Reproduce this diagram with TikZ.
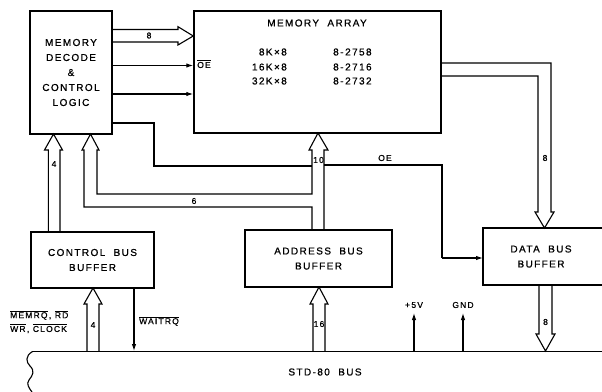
\documentclass[tikz,border=0pt]{standalone}
\usepackage{fontspec}
\setmainfont{Liberation Sans}[LetterSpace=14,FakeBold=0.8]
\usetikzlibrary{arrows.meta}
\newcommand\ovl[1]{\ensuremath{\overline{\mbox{#1}}}}
\begin{document}
\begin{tikzpicture}[x=1pt,y=-1pt,
  box/.style={draw,line width=1.5pt,inner sep=0pt,align=center,font=\fontsize{10}{15}\selectfont},
  txt/.style={inner sep=0pt,font=\fontsize{10}{15}\selectfont},
  lbl/.style={inner sep=0pt,font=\fontsize{8.5}{13}\selectfont},
  wire/.style={line width=1.1pt},
  tip/.style={-{Latex[length=7pt,width=4.5pt]}}]
\useasboundingbox[fill=white] (0,0) rectangle (602,391);

% boxes
\node[box,minimum width=82pt,minimum height=123pt] (dec) at (71,72.5) {MEMORY\\DECODE\\\&\\CONTROL\\LOGIC};
\node[box,minimum width=247pt,minimum height=122pt] (mem) at (317.5,72) {};
\node[box,minimum width=123pt,minimum height=56pt] (cbb) at (92.5,260) {CONTROL\ \ BUS\\BUFFER};
\node[box,minimum width=147pt,minimum height=57pt] (abb) at (318.5,258.5) {ADDRESS\ \ BUS\\BUFFER};
\node[txt,align=center,minimum width=116pt,minimum height=57pt] (dbb) at (541,256.5) {DATA\ \ BUS\\BUFFER};
\draw[line width=1.5pt] (603,228) -- (483,228) -- (483,285) -- (603,285);

% memory array contents
\node[txt] (mtitle) at (317,23) {MEMORY\ \ ARRAY};
\node[txt,anchor=east] (r1) at (287,52) {8K×8};
\node[txt,anchor=east] (r2) at (287,67) {16K×8};
\node[txt,anchor=east] (r3) at (287,81) {32K×8};
\node[txt,anchor=west] (p1) at (333,52) {8-\,2758};
\node[txt,anchor=west] (p2) at (333,67) {8-\,2716};
\node[txt,anchor=west] (p3) at (333,81) {8-\,2732};
\node[lbl] (oebar) at (204,64) {\ovl{OE}};

% decode -> memory
\draw[wire] (dec.east |- 0,29.5) -- (178,29.5) -- (178,26.7) -- (mem.west |- 0,36) -- (178,45) -- (178,42) -- (dec.east |- 0,42);
\node[lbl] (l8a) at (149,35.5) {8};
\draw[wire,tip] (dec.east |- 0,65.5) -- (mem.west |- 0,65.5);
\draw[wire,tip] (dec.east |- 0,94) -- (mem.west |- 0,94);

% decode out -> join 10-bus
\draw[wire] (dec.east |- 0,123) -- (154,123) -- (154,166) -- (312,166);

% 10-bit arrow into memory, 6-bit into decode
\draw[wire] (324,230) -- (324,150) -- (328,150) -- (318,133) -- (309,150) -- (312,150) -- (312,194) -- (97,194) -- (97,150) -- (99,150) -- (90.5,134) -- (82,150) -- (84,150) -- (84,207) -- (312,207) -- (312,230);
\node[lbl] (l10) at (318.5,160) {10};
\node[lbl] (l6) at (194,201) {6};

% OE to data bus buffer
\draw[wire] (324,165) -- (442,165) -- (442,258);
\draw[wire,tip] (442,258) -- (483,258);
\node[lbl] (loe) at (385,158) {OE};

% data bus from memory to data buffer
\draw[wire] (mem.east |- 0,63) -- (551,63) -- (551,212) -- (554,212) -- (544.5,228) -- (535,212) -- (538,212) -- (538,76) -- (mem.east |- 0,76);
\node[lbl] (l8b) at (545,158) {8};

% data buffer to bus
\draw[wire] (539,285) -- (539,334) -- (536,334) -- (545.5,351) -- (555,334) -- (552,334) -- (552,285);
\node[lbl] (l8c) at (545.5,322) {8};

% control buffer -> decode
\draw[wire] (48.3,232) -- (48.3,150) -- (44.5,150) -- (53.5,134) -- (62.5,150) -- (60,150) -- (60,232);
\node[lbl] (l4a) at (54,164) {4};

% bus -> control buffer
\draw[wire] (87,351) -- (87,304) -- (84,304) -- (93,288) -- (102,304) -- (99,304) -- (99,351);
\node[lbl] (l4b) at (93,325) {4};
\draw[wire,tip] (134,288) -- (134,351);
\node[lbl,anchor=west] (lwait) at (139,321) {\ovl{WAITRQ}};
\node[lbl,anchor=west] (lmem) at (10,315) {\ovl{MEMRQ}\,, \ovl{RD}};
\node[lbl,anchor=west] (lwr) at (10,328.5) {\ovl{WR}\,, \ovl{CLOCK}};

% bus -> address buffer
\draw[wire] (313,351) -- (313,304) -- (310,304) -- (319,287) -- (328,304) -- (325,304) -- (325,351);
\node[lbl] (l16) at (319,324) {16};

% power
\draw[wire,tip] (414,351) -- (414,313);
\node[lbl] (l5v) at (414,305) {+\,5V};
\draw[wire,tip] (463,351) -- (463,313);
\node[lbl] (lgnd) at (463,305) {GND};

% bus
\draw[line width=1.6pt] (603,351.5) -- (32,351.5);
\draw[wire] (32.5,351.5) .. controls (25,356) and (26,362) .. (30,366) .. controls (35,371) and (33,375) .. (29,380) .. controls (26,384) and (29,388) .. (32,392);
\node[txt] (std) at (325,372) {STD-80\ \ BUS};
\end{tikzpicture}
\end{document}
